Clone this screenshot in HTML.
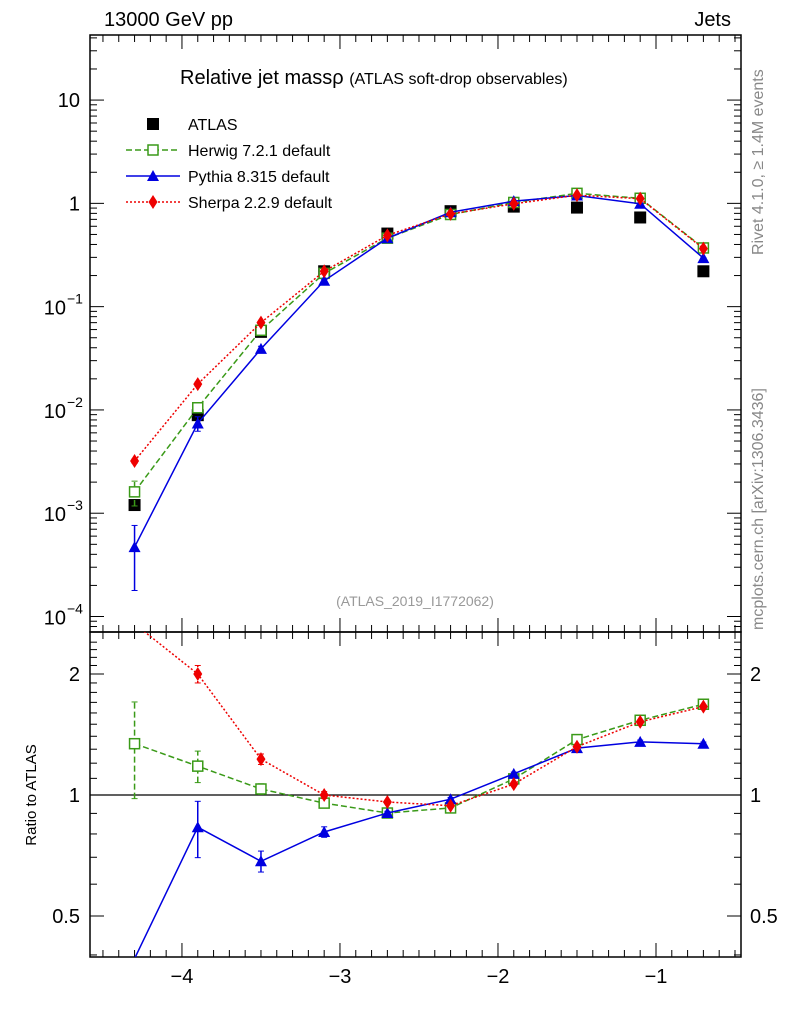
<!DOCTYPE html>
<html><head><meta charset="utf-8"><style>
html,body{margin:0;padding:0;background:#fff;width:786px;height:1024px;overflow:hidden;}
svg{display:block;font-family:"Liberation Sans",sans-serif;}
</style></head><body>
<svg id="c" width="786" height="1024" xmlns="http://www.w3.org/2000/svg">
<g id="g"></g>
</svg>
<script>
const xs=[-4.3,-3.9,-3.5,-3.1,-2.7,-2.3,-1.9,-1.5,-1.1,-0.7];
const atlas=[1.2e-3,0.0089,0.057,0.22,0.51,0.84,0.93,0.91,0.73,0.22];
const herwig=[1.61e-3,0.0105,0.059,0.21,0.46,0.78,1.02,1.25,1.12,0.37];
const pythia=[4.7e-4,0.0074,0.039,0.178,0.46,0.82,1.05,1.19,0.99,0.295];
const sherpa=[3.2e-3,0.0178,0.070,0.22,0.49,0.79,0.99,1.20,1.11,0.365];
const herwigErr=[0.27,0.09,0.03,0.02,0.01,0.01,0.01,0.01,0.01,0.01];
const pythiaErr=[0.62,0.16,0.06,0.03,0.01,0.01,0.01,0.01,0.01,0.01];
const sherpaErr=[0.05,0.05,0.03,0.02,0.01,0.01,0.01,0.01,0.01,0.01];
const xTicks=[-4,-3,-2,-1];
const yTicks=[1,0,-1,-2,-3,-4];
const rTicks=[0.5,1,2];

const NS="http://www.w3.org/2000/svg";
const g=document.getElementById('g');
const L=90,R=741,T=35,B=632,RB=957;
const RMIN=0.395,RMAX=2.54;
const X=v=>L+(v+4.582)/4.12*(R-L);
const Y=v=>T+(1.63-Math.log10(v))/5.78*(B-T);
const RY=v=>795-Math.log2(v)*121;
function el(t,a,p){const e=document.createElementNS(NS,t);for(const k in a)e.setAttribute(k,a[k]);(p||g).appendChild(e);return e;}
function txt(x,y,s,a,p){const e=el('text',Object.assign({x:x,y:y},a||{}),p);e.textContent=s;return e;}

const defs=el('defs',{});
const c1=el('clipPath',{id:'cm'},defs);el('rect',{x:L,y:T,width:R-L,height:B-T},c1);
const c2=el('clipPath',{id:'cr'},defs);el('rect',{x:L,y:B,width:R-L,height:RB-B},c2);

let f=el('rect',{x:L,y:T,width:R-L,height:B-T,fill:'none',stroke:'#000','stroke-width':1.5});

f=el('rect',{x:L,y:B,width:R-L,height:RB-B,fill:'none',stroke:'#000','stroke-width':1.5});


for(let v=-4.5;v<=-0.5+1e-9;v+=0.1){
  const x=X(v);const maj=Math.abs(v-Math.round(v))<1e-6;const len=maj?14:7;
  el('line',{x1:x,x2:x,y1:B,y2:B-len,stroke:'#000'});el('line',{x1:x,x2:x,y1:T,y2:T+len,stroke:'#000'});
  el('line',{x1:x,x2:x,y1:RB,y2:RB-len,stroke:'#000'});el('line',{x1:x,x2:x,y1:B,y2:B+len,stroke:'#000'});
}
xTicks.forEach(v=>{const t=txt(X(v),983,'\u2212'+Math.abs(v),{'text-anchor':'middle','font-size':20});
});

for(let d=-5;d<=1;d++){for(let m=1;m<10;m++){const v=m*Math.pow(10,d);const y=Y(v);if(y<T||y>B)continue;
 const len=m==1?14:7;el('line',{x1:L,x2:L+len,y1:y,y2:y,stroke:'#000'});el('line',{x1:R,x2:R-len,y1:y,y2:y,stroke:'#000'});}}
yTicks.forEach(d=>{const y=Y(Math.pow(10,d));let t;
 if(d==1)t=txt(80,y+7,'10',{'text-anchor':'end','font-size':20});
 else if(d==0)t=txt(80,y+7,'1',{'text-anchor':'end','font-size':20});
 else{t=txt(66,y+8,'10',{'text-anchor':'end','font-size':20});const s=txt(67,y-3,'\u2212'+Math.abs(d),{'font-size':14});}
 });

for(let v=0.4;v<=2.5;v+=0.1){const y=RY(v);if(y<B||y>RB)continue;const maj=rTicks.some(r=>Math.abs(r-v)<1e-6);const len=maj?14:7;
 el('line',{x1:L,x2:L+len,y1:y,y2:y,stroke:'#000'});el('line',{x1:R,x2:R-len,y1:y,y2:y,stroke:'#000'});}
rTicks.forEach(v=>{const y=RY(v);let t=txt(80,y+7,String(v),{'text-anchor':'end','font-size':20});
 
 t=txt(750,y+7,String(v),{'font-size':20});});
let ln=el('line',{x1:L,x2:R,y1:RY(1),y2:RY(1),stroke:'#000','stroke-width':1.2});


const series=[
 {name:'herwig',d:herwig,e:herwigErr,col:'#3a9a18',dash:'6,3',m:'osq'},
 {name:'pythia',d:pythia,e:pythiaErr,col:'#0000e0',dash:'',m:'tri'},
 {name:'sherpa',d:sherpa,e:sherpaErr,col:'#ee0000',dash:'2,2',m:'dia'}];
function marker(p,m,x,y,col){
 if(m=='osq')return el('rect',{x:x-5,y:y-5,width:10,height:10,fill:'#fff',stroke:col,'stroke-width':1.5},p);
 if(m=='tri')return el('polygon',{points:`${x},${y-6} ${x-6},${y+5} ${x+6},${y+5}`,fill:col},p);
 if(m=='dia')return el('polygon',{points:`${x},${y-7} ${x-4.5},${y} ${x},${y+7} ${x+4.5},${y}`,fill:col},p);
 if(m=='sq')return el('rect',{x:x-6,y:y-6,width:12,height:12,fill:'#000'},p);
}
function drawSeries(s,ratio){
 const grp=el('g',{'clip-path':ratio?'url(#cr)':'url(#cm)'});
 
 const vals=s.d.map((v,i)=>ratio?v/atlas[i]:v);const fy=ratio?RY:Y;
 el('polyline',{points:vals.map((v,i)=>X(xs[i])+','+fy(v)).join(' '),fill:'none',stroke:s.col,'stroke-width':1.5,'stroke-dasharray':s.dash},grp);
 vals.forEach((v,i)=>{
  if(ratio&&(v<RMIN||v>RMAX))return;
  const x=X(xs[i]);const lo=v*(1-s.e[i]),hi=v*(1+s.e[i]);
  el('line',{x1:x,x2:x,y1:fy(lo),y2:fy(hi),stroke:s.col,'stroke-width':1.5,'stroke-dasharray':s.dash},grp);
  el('line',{x1:x-3,x2:x+3,y1:fy(lo),y2:fy(lo),stroke:s.col},grp);el('line',{x1:x-3,x2:x+3,y1:fy(hi),y2:fy(hi),stroke:s.col},grp);
  const mk=marker(grp,s.m,x,fy(v),s.col);});
}
const ag=el('g',{'clip-path':'url(#cm)'});
atlas.forEach((v,i)=>{const mk=marker(ag,'sq',X(xs[i]),Y(v));});
series.forEach(s=>{drawSeries(s,false);drawSeries(s,true);});

const lg=el('g',{});
const items=[['ATLAS',null],['Herwig 7.2.1 default',series[0]],['Pythia 8.315 default',series[1]],['Sherpa 2.2.9 default',series[2]]];
items.forEach((it,i)=>{const y=124+i*26;
 const e=el('g',{},lg);
 if(!it[1])marker(e,'sq',153,y);
 else{el('line',{x1:126,x2:180,y1:y,y2:y,stroke:it[1].col,'stroke-width':1.5,'stroke-dasharray':it[1].dash},e);marker(e,it[1].m,153,y,it[1].col);}
 txt(188,y+6,it[0],{'font-size':16},e);});

let t=txt(104,26,'13000 GeV pp',{'font-size':20});
t=txt(731,26,'Jets',{'font-size':20,'text-anchor':'end'});
t=el('text',{x:180,y:84,'font-size':20});t.innerHTML='Relative jet mass\u03c1 <tspan font-size="16">(ATLAS soft-drop observables)</tspan>';

t=txt(415,606,'(ATLAS_2019_I1772062)',{'font-size':14,'fill':'#999','text-anchor':'middle'});
t=txt(0,0,'Rivet 4.1.0, \u2265 1.4M events',{'font-size':16,'fill':'#888','transform':'translate(763,255) rotate(-90)'});
t=txt(0,0,'mcplots.cern.ch [arXiv:1306.3436]',{'font-size':16,'fill':'#888','transform':'translate(763,630) rotate(-90)'});
t=txt(0,0,'Ratio to ATLAS',{'font-size':15,'text-anchor':'middle','transform':'translate(36,795) rotate(-90)'});
</script>
</body></html>
